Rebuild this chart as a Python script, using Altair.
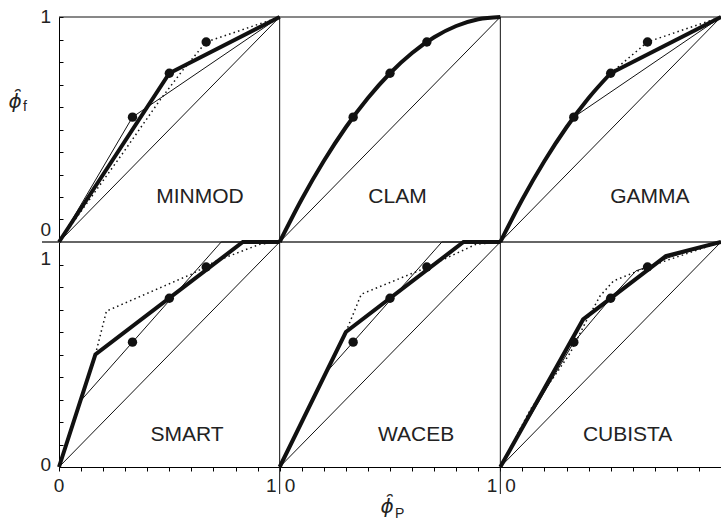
import altair as alt
import pandas as pd

W, H = 662, 450

panel_names = ["MINMOD", "CLAM", "GAMMA", "SMART", "WACEB", "CUBISTA"]
panel_cols = [0, 1, 2, 0, 1, 2]
panel_rows = [0, 0, 0, 1, 1, 1]

# panel-local label anchors for scheme names
name_x = [0.639, 0.534, 0.678, 0.58, 0.618, 0.577]
name_y = [0.2, 0.2, 0.2, 0.144, 0.144, 0.144]

# dots (same in every panel)
dot_x = [0.333, 0.5, 0.667]
dot_y = [0.555, 0.75, 0.889]

diag_x = [0.0, 1.0]
diag_y = [0.0, 1.0]

# thick scheme lines (straight pieces)
minmod_thick_x = [0.0, 0.5, 1.0]
minmod_thick_y = [0.0, 0.75, 1.0]
gamma_thick_x = [0.5, 1.0]
gamma_thick_y = [0.75, 1.0]
smart_thick_x = [0.0, 0.165, 0.833, 1.0]
smart_thick_y = [0.0, 0.5, 1.0, 1.0]
waceb_thick_x = [0.0, 0.3, 0.833, 1.0]
waceb_thick_y = [0.0, 0.6, 1.0, 1.0]
cubista_thick_x = [0.0, 0.375, 0.75, 1.0]
cubista_thick_y = [0.0, 0.656, 0.9375, 1.0]

# thick scheme lines (curved pieces)
clam_curve_x = [0.0, 0.1, 0.2, 0.3, 0.4, 0.5, 0.6, 0.7, 0.8, 0.9, 1.0]
clam_curve_y = [0.0, 0.19, 0.36, 0.51, 0.64, 0.75, 0.84, 0.91, 0.96, 0.99, 1.0]
gamma_curve_x = [0.0, 0.1, 0.2, 0.3, 0.4, 0.5]
gamma_curve_y = [0.0, 0.19, 0.36, 0.51, 0.64, 0.75]

# thin lines
minmod_thin_x = [0.0, 0.333, 1.0]
minmod_thin_y = [0.0, 0.555, 1.0]
gamma_thin_x = [0.333, 1.0]
gamma_thin_y = [0.555, 1.0]
smart_thin_x = [0.098, 0.735, 1.0]
smart_thin_y = [0.294, 1.0, 1.0]
waceb_thin_x = [0.208, 0.735, 1.0]
waceb_thin_y = [0.417, 1.0, 1.0]
cubista_thin_x = [0.0, 0.333, 0.5, 0.615, 0.667, 0.76, 1.0]
cubista_thin_y = [0.0, 0.555, 0.75, 0.872, 0.889, 0.93, 1.0]

# dotted lines
minmod_dot_x = [0.0, 0.29, 0.457, 0.562, 0.667, 1.0]
minmod_dot_y = [0.0, 0.396, 0.63, 0.765, 0.889, 1.0]
gamma_dot_x = [0.5, 0.667, 1.0]
gamma_dot_y = [0.75, 0.889, 1.0]
smart_dot_x = [0.165, 0.215, 0.6, 0.714, 0.91, 1.0]
smart_dot_y = [0.5, 0.693, 0.857, 0.916, 0.99, 1.0]
waceb_dot_x = [0.3, 0.37, 0.649, 0.89, 1.0]
waceb_dot_y = [0.6, 0.768, 0.88, 0.99, 1.0]
cubista_dot_x = [0.0, 0.136, 0.256, 0.317, 0.39, 0.452, 0.513, 0.588, 0.667, 1.0]
cubista_dot_y = [0.0, 0.255, 0.419, 0.508, 0.65, 0.76, 0.827, 0.857, 0.889, 1.0]

# axis ticks and labels
x_ticks = [round(i * 0.1, 1) for i in range(31)]
y_ticks = [round(i * 0.1, 1) for i in range(21)]
x_lab_center_pos = [0]
x_lab_center_txt = ["0"]
x_lab_right_pos = [1, 2]
x_lab_right_txt = ["1", "1"]
x_lab_left_pos = [1, 2]
x_lab_left_txt = ["0", "0"]
panel_seps = [1, 2]

# ------------------------------------------------------------------
col_of = dict(zip(panel_names, panel_cols))
row_of = dict(zip(panel_names, panel_rows))


def rows(kind, panel, xs, ys):
    out = []
    for i, (x, y) in enumerate(zip(xs, ys)):
        out.append({"kind": kind, "panel": panel, "i": i,
                    "X": x + col_of[panel], "Y": y + (1 - row_of[panel])})
    return out


diag_rows, dot_rows = [], []
for p in panel_names:
    diag_rows += rows("diag", p, diag_x, diag_y)
    dot_rows += rows("dot", p, dot_x, dot_y)

thick_rows = (rows("thick", "MINMOD", minmod_thick_x, minmod_thick_y)
              + rows("thick", "GAMMA", gamma_thick_x, gamma_thick_y)
              + rows("thick", "SMART", smart_thick_x, smart_thick_y)
              + rows("thick", "WACEB", waceb_thick_x, waceb_thick_y)
              + rows("thick", "CUBISTA", cubista_thick_x, cubista_thick_y))
curve_rows = (rows("curve", "CLAM", clam_curve_x, clam_curve_y)
              + rows("curve", "GAMMA", gamma_curve_x, gamma_curve_y))
thin_rows = (rows("thin", "MINMOD", minmod_thin_x, minmod_thin_y)
             + rows("thin", "GAMMA", gamma_thin_x, gamma_thin_y)
             + rows("thin", "SMART", smart_thin_x, smart_thin_y)
             + rows("thin", "WACEB", waceb_thin_x, waceb_thin_y)
             + rows("thin", "CUBISTA", cubista_thin_x, cubista_thin_y))
dotted_rows = (rows("dotted", "MINMOD", minmod_dot_x, minmod_dot_y)
               + rows("dotted", "GAMMA", gamma_dot_x, gamma_dot_y)
               + rows("dotted", "SMART", smart_dot_x, smart_dot_y)
               + rows("dotted", "WACEB", waceb_dot_x, waceb_dot_y)
               + rows("dotted", "CUBISTA", cubista_dot_x, cubista_dot_y))

names_df = pd.DataFrame({
    "name": panel_names,
    "X": [x + c for x, c in zip(name_x, panel_cols)],
    "Y": [y + (1 - r) for y, r in zip(name_y, panel_rows)],
})

xs = alt.Scale(domain=[0, 3], nice=False, zero=False)
ys = alt.Scale(domain=[0, 2], nice=False, zero=False)
xax = alt.Axis(values=x_ticks, tickSize=4, labels=False, title=None, grid=False,
               domainColor="black", tickColor="black", domainWidth=1, tickWidth=1)
yax = alt.Axis(orient="right", offset=-W, values=y_ticks, tickSize=4, labels=False,
               title=None, grid=False, domainColor="black", tickColor="black",
               domainWidth=1, tickWidth=1)
X = alt.X("X:Q", scale=xs, axis=xax)
Y = alt.Y("Y:Q", scale=ys, axis=yax)

INK = "#111111"

# frame pieces
vsep = alt.Chart(pd.DataFrame({"X": panel_seps})).mark_rule(color=INK, strokeWidth=1).encode(
    x=X, y=alt.value(0), y2=alt.value(H + 27))
top_border = alt.Chart(pd.DataFrame({"Y": [2]})).mark_rule(color=INK, strokeWidth=1).encode(
    y=Y, x=alt.value(0), x2=alt.value(W))
mid_border = alt.Chart(pd.DataFrame({"Y": [1]})).mark_rule(color="#666666", strokeWidth=2).encode(
    y=Y, x=alt.value(-17), x2=alt.value(W))

diag = alt.Chart(pd.DataFrame(diag_rows)).mark_line(color=INK, strokeWidth=1).encode(
    x=X, y=Y, detail="panel:N", order="i:Q")
thin = alt.Chart(pd.DataFrame(thin_rows)).mark_line(color=INK, strokeWidth=1).encode(
    x=X, y=Y, detail="panel:N", order="i:Q")
dotted = alt.Chart(pd.DataFrame(dotted_rows)).mark_line(
    color=INK, strokeWidth=1.5, strokeDash=[1.5, 3.2]).encode(
    x=X, y=Y, detail="panel:N", order="i:Q")
thick = alt.Chart(pd.DataFrame(thick_rows)).mark_line(
    color=INK, strokeWidth=4, strokeJoin="miter").encode(
    x=X, y=Y, detail="panel:N", order="i:Q")
curve = alt.Chart(pd.DataFrame(curve_rows)).mark_line(
    color=INK, strokeWidth=4, interpolate="monotone").encode(
    x=X, y=Y, detail="panel:N", order="i:Q")
dots = alt.Chart(pd.DataFrame(dot_rows)).mark_circle(color=INK, size=88, opacity=1).encode(
    x=X, y=Y)

names = alt.Chart(names_df).mark_text(font="Liberation Sans", fontSize=21, color="#222222").encode(
    x=X, y=Y, text="name:N")

# axis labels
lab_font = dict(font="Liberation Sans", fontSize=19, color="#222222", baseline="middle")
xl_c = alt.Chart(pd.DataFrame({"X": x_lab_center_pos, "t": x_lab_center_txt})).mark_text(
    align="center", **lab_font).encode(x=X, y=alt.value(H + 19), text="t:N")
xl_r = alt.Chart(pd.DataFrame({"X": x_lab_right_pos, "t": x_lab_right_txt})).mark_text(
    align="right", dx=-3, **lab_font).encode(x=X, y=alt.value(H + 19), text="t:N")
xl_l = alt.Chart(pd.DataFrame({"X": x_lab_left_pos, "t": x_lab_left_txt})).mark_text(
    align="left", dx=5, **lab_font).encode(x=X, y=alt.value(H + 19), text="t:N")

yl_top1 = alt.Chart(pd.DataFrame({"Y": [2], "t": ["1"]})).mark_text(
    align="right", dx=-8, dy=0, **lab_font).encode(y=Y, x=alt.value(0), text="t:N")
yl_top0 = alt.Chart(pd.DataFrame({"Y": [1], "t": ["0"]})).mark_text(
    align="right", dx=-8, dy=-12, **lab_font).encode(y=Y, x=alt.value(0), text="t:N")
yl_bot1 = alt.Chart(pd.DataFrame({"Y": [1], "t": ["1"]})).mark_text(
    align="right", dx=-8, dy=17, **lab_font).encode(y=Y, x=alt.value(0), text="t:N")
yl_bot0 = alt.Chart(pd.DataFrame({"Y": [0], "t": ["0"]})).mark_text(
    align="right", dx=-8, dy=-2, **lab_font).encode(y=Y, x=alt.value(0), text="t:N")

# axis titles: phi with an arc accent (combining inverted breve) and a subscript
phi_font = dict(font="DejaVu Sans", fontStyle="italic", fontSize=20, color="#222222",
                baseline="middle", align="center")
sub_font = dict(font="Liberation Sans", fontSize=14, color="#222222",
                baseline="middle", align="left")

t_df = pd.DataFrame({"phi": ["\u03d5\u0311"], "sf": ["f"], "sp": ["P"]})
ttl_f_phi = alt.Chart(t_df).mark_text(**phi_font).encode(
    x=alt.value(-44), y=alt.value(85), text="phi:N")
ttl_f_sub = alt.Chart(t_df).mark_text(**sub_font).encode(
    x=alt.value(-36), y=alt.value(90), text="sf:N")
ttl_p_phi = alt.Chart(t_df).mark_text(**phi_font).encode(
    x=alt.value(328), y=alt.value(490), text="phi:N")
ttl_p_sub = alt.Chart(t_df).mark_text(**sub_font).encode(
    x=alt.value(336), y=alt.value(497), text="sp:N")

chart = alt.layer(
    mid_border, vsep, top_border, diag, thin, dotted, thick, curve, dots, names,
    xl_c, xl_r, xl_l, yl_top1, yl_top0, yl_bot1, yl_bot0,
    ttl_f_phi, ttl_f_sub, ttl_p_phi, ttl_p_sub,
).properties(
    width=W, height=H,
    padding={"left": 59, "top": 17, "right": 0, "bottom": 57},
    autosize=alt.AutoSizeParams(type="none"),
).configure_view(stroke=None)

chart.save("out.html", embed_options={"renderer": "svg", "actions": False})
